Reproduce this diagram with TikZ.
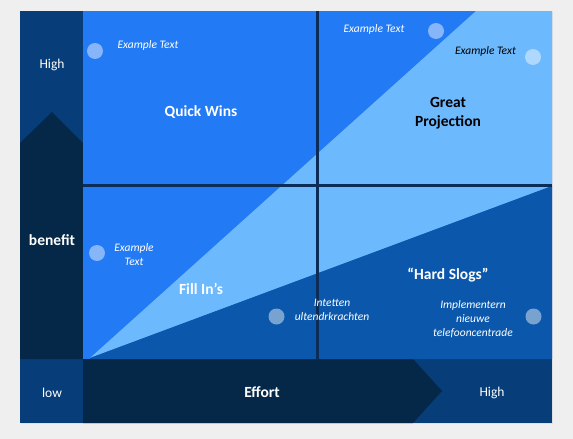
\documentclass[tikz,border=0pt]{standalone}
\usepackage{fontspec}
\setmainfont{Carlito}
\definecolor{bgc}{HTML}{EFEFEF}
\definecolor{colmid}{HTML}{073D79}
\definecolor{navyc}{HTML}{052748}
\definecolor{qblue}{HTML}{237AF5}
\definecolor{lblue}{HTML}{6DB9FD}
\definecolor{dblue}{HTML}{0A57AB}
\definecolor{divc}{HTML}{0C2D57}
\tikzset{
  big/.style={font=\fontsize{15.5}{18.6}\selectfont\bfseries, text=white, align=center, inner sep=0pt},
  axis/.style={font=\fontsize{13.5}{16}\selectfont, text=white, inner sep=0pt},
  ex/.style={font=\fontsize{11.5}{14}\selectfont\itshape, text=white, align=center, inner sep=0pt},
  dot/.style={circle, fill=white, fill opacity=0.45, minimum size=16pt, inner sep=0pt},
  divider/.style={draw=divc, line width=3pt},
}
\begin{document}
\begin{tikzpicture}[x=1pt,y=-1pt]
\useasboundingbox (0,0) rectangle (573,439);
\fill[bgc] (0,0) rectangle (573,439);
% frame
\fill[black!12] (21,12) rectangle (553,424);
\fill[colmid] (20,11) rectangle (83,423);
\fill[colmid] (83,359) rectangle (552,423);
\fill[navyc] (20,143) -- (52,112) -- (83,143) -- (83,359) -- (20,359) -- cycle;
\fill[navyc] (83,359) -- (413,359) -- (442,391) -- (413,423) -- (83,423) -- cycle;
% chart
\fill[qblue] (83,11) rectangle (552,359);
\fill[lblue] (90,358) -- (476,11) -- (552,11) -- (552,186) -- cycle;
\fill[dblue] (90,358) -- (552,186) -- (552,359) -- (90,359) -- cycle;
% dividers
\coordinate (hl) at (83,185);
\coordinate (hr) at (552,185);
\coordinate (vt) at (317.5,11);
\coordinate (vb) at (317.5,359);
\draw[divider] (hl) -- (hr);
\draw[divider] (vt) -- (vb);
% dots
\node[dot] (d1) at (95,51) {};
\node[dot] (d2) at (436,31) {};
\node[dot] (d3) at (533,57) {};
\node[dot] (d4) at (97,253) {};
\node[dot] (d5) at (276.5,316.5) {};
\node[dot] (d6) at (533.5,316.5) {};
% axis labels
\node[axis] (hi1) at (52,64.5) {High};
\node[big] (ben) at (52,240.5) {benefit};
\node[axis] (low) at (52,393) {low};
\node[big] (eff) at (262,392.5) {Effort};
\node[axis] (hi2) at (492,393) {High};
% quadrant labels
\node[big] (qw) at (201,112.5) {Quick Wins};
\node[big, text=black] (gp) at (448,113) {Great\\Projection};
\node[big] (fi) at (201,288.5) {Fill In’s};
\node[big] (hs) at (448,275.5) {“Hard Slogs”};
% example texts
\node[ex] (e1) at (148,45) {Example Text};
\node[ex] (e2) at (374,29) {Example Text};
\node[ex, text=black] (e3) at (485.5,51) {Example Text};
\node[ex] (e4) at (134,255) {Example\\Text};
\node[ex] (e5) at (332,310) {Intetten\\ultendrkrachten};
\node[ex] (e6) at (473,319.5) {Implementern\\nieuwe\\telefooncentrade};
\end{tikzpicture}
\end{document}
